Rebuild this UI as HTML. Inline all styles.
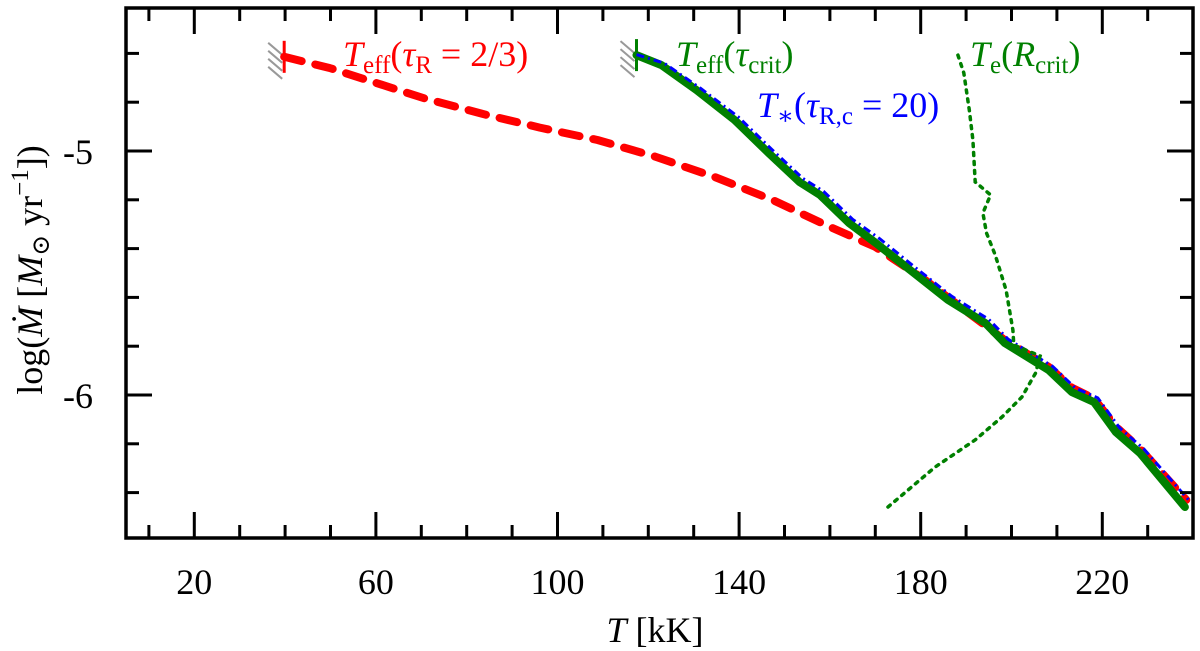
<!DOCTYPE html>
<html><head><meta charset="utf-8"><style>
body{margin:0;background:#fff;}
svg{display:block;font-family:"Liberation Serif","DejaVu Serif",serif;}
</style></head><body>
<svg id="chart" width="1200" height="651" viewBox="0 0 1200 651">
<g id="marks"></g>
<g id="axes"></g>
<text x="343" y="66" font-size="36" fill="#f00"><tspan font-style="italic">T</tspan><tspan font-size="25" dy="7">eff</tspan><tspan dy="-7">(</tspan><tspan font-style="italic">τ</tspan><tspan font-size="25" dy="7">R</tspan><tspan dy="-7"> = 2/3)</tspan></text>
<text x="676" y="66" font-size="36" fill="#008000"><tspan font-style="italic">T</tspan><tspan font-size="25" dy="7">eff</tspan><tspan dy="-7">(</tspan><tspan font-style="italic">τ</tspan><tspan font-size="25" dy="7">crit</tspan><tspan dy="-7">)</tspan></text>
<text x="757" y="117" font-size="36" fill="#00f"><tspan font-style="italic">T</tspan><tspan font-size="25" dy="7">∗</tspan><tspan dy="-7">(</tspan><tspan font-style="italic">τ</tspan><tspan font-size="25" dy="7">R,c</tspan><tspan dy="-7"> = 20)</tspan></text>
<text x="970" y="66" font-size="36" fill="#008000"><tspan font-style="italic">T</tspan><tspan font-size="25" dy="7">e</tspan><tspan dy="-7">(</tspan><tspan font-style="italic">R</tspan><tspan font-size="25" dy="7">crit</tspan><tspan dy="-7">)</tspan></text>
<text x="655" y="642" font-size="36" text-anchor="middle"><tspan font-style="italic">T</tspan> [kK]</text>
<text transform="translate(42,270) rotate(-90)" font-size="36" text-anchor="middle">log(<tspan font-style="italic">Ṁ</tspan> [<tspan font-style="italic">M</tspan><tspan font-size="25" dy="7">⊙</tspan><tspan dy="-7"> yr</tspan><tspan font-size="25" dy="-14">−1</tspan><tspan dy="14">])</tspan></text>
</svg>
<script>
const xTicks=[20,60,100,140,180,220];
const yTicks=[-5,-6];
const redT=[39.8,49.8,59.9,70.8,83.5,96.1,108.8,121.5,134.7,147.3,160.0,170.0,181.0,186.0,198.5,208.2,213.3,218.2,223.0,228.3,238.5];
const redV=[-4.614,-4.66,-4.72,-4.785,-4.848,-4.904,-4.955,-5.023,-5.107,-5.2,-5.311,-5.393,-5.529,-5.60,-5.775,-5.885,-5.97,-6.015,-6.13,-6.22,-6.43];
const greenT=[117.4,122.9,130.6,139.0,146.5,153.3,157.8,164.2,170.1,178.5,186.0,194.2,198.5,208.2,213.3,218.2,223.0,228.3,238.2];
const greenV=[-4.607,-4.648,-4.75,-4.873,-5.008,-5.127,-5.18,-5.295,-5.377,-5.5,-5.61,-5.705,-5.787,-5.898,-5.988,-6.029,-6.152,-6.238,-6.459];
const blueT=[117.4,123.5,131.3,139.8,147.3,154.0,158.6,165.0,171.0,179.3,186.8,195.0,199.3,209.0,214.1,219.0,223.8,229.1,239.0];
const blueV=[-4.605,-4.64,-4.74,-4.86,-4.995,-5.112,-5.165,-5.28,-5.36,-5.485,-5.595,-5.69,-5.772,-5.882,-5.972,-6.012,-6.135,-6.22,-6.43];
const dotT=[188.2,189.5,190.7,191.5,192.0,195.4,193.7,194.5,196.4,198.8,200.3,200.5,206.3,205.3,202.3,197.9,192.0,183.2,172.8];
const dotV=[-4.607,-4.68,-4.832,-4.955,-5.127,-5.18,-5.254,-5.336,-5.426,-5.57,-5.734,-5.795,-5.84,-5.91,-6.008,-6.09,-6.184,-6.295,-6.459];

const L=126,R=1193,T0=8,B=538;
function X(t){return 194.3+(t-20)*4.54;}
function Y(v){return 151+(-5-v)*244;}
const NS="http://www.w3.org/2000/svg";
const marks=document.getElementById('marks'),axes=document.getElementById('axes');
function mk(tag,attrs,parent){const e=document.createElementNS(NS,tag);for(const k in attrs)e.setAttribute(k,attrs[k]);parent.appendChild(e);return e;}
function pts(ts,vs){return ts.map((t,i)=>X(t).toFixed(1)+','+Y(vs[i]).toFixed(1)).join(' ');}

[[redT[0],redV[0],'#f00'],[greenT[0],greenV[0],'#008000']].forEach(([t,v,c],k)=>{
  const x=X(t),y=Y(v);
  for(let i=0;i<4;i++){
    const h=mk('line',{x1:x-16,y1:y-14+i*8,x2:x-2,y2:y-2+i*8,stroke:'#999','stroke-width':2},marks);
    
    
  }
  const m=mk('line',{x1:x,y1:y-16,x2:x,y2:y+16,stroke:c,'stroke-width':3},marks);
  
  
});
const r=mk('polyline',{points:pts(redT,redV),fill:'none',stroke:'#f00','stroke-width':8,'stroke-dasharray':'18,14','stroke-linejoin':'round','stroke-linecap':'round'},marks);


const g=mk('polyline',{points:pts(greenT,greenV),fill:'none',stroke:'#008000','stroke-width':8,'stroke-linejoin':'round','stroke-linecap':'round'},marks);


const b=mk('polyline',{points:pts(blueT,blueV),fill:'none',stroke:'#00f','stroke-width':3,'stroke-dasharray':'8,4,2,4'},marks);


const d=mk('polyline',{points:pts(dotT,dotV),fill:'none',stroke:'#008000','stroke-width':3.5,'stroke-dasharray':'3,6','stroke-linecap':'round'},marks);



const f=mk('rect',{x:L,y:T0,width:R-L,height:B-T0,fill:'none',stroke:'#000','stroke-width':3.5},axes);


for(let t=10;t<240;t+=10){
  const major=xTicks.includes(t),len=major?26:13,x=X(t);
  const a=mk('line',{x1:x,y1:B,x2:x,y2:B-len,stroke:'#000','stroke-width':3},axes);
  
  
  const c=mk('line',{x1:x,y1:T0,x2:x,y2:T0+len,stroke:'#000','stroke-width':3},axes);
  
  
}
xTicks.forEach(t=>{
  const tx=mk('text',{x:X(t),y:594,'font-size':36,'text-anchor':'middle'},axes);
  tx.textContent=t;
  
  
});
for(let i=0;i<=9;i++){
  const v=-4.6-0.2*i,y=Y(v);if(y<T0+2||y>B-2)continue;
  const major=Math.abs(v+5)<1e-6||Math.abs(v+6)<1e-6,len=major?26:13;
  const a=mk('line',{x1:L,y1:y,x2:L+len,y2:y,stroke:'#000','stroke-width':3},axes);
  
  
  const c=mk('line',{x1:R,y1:y,x2:R-len,y2:y,stroke:'#000','stroke-width':3},axes);
  
  
}
yTicks.forEach(v=>{
  const tx=mk('text',{x:93,y:Y(v)+13,'font-size':36,'text-anchor':'end'},axes);
  tx.textContent=v;
  
  
});
</script>
</body></html>
